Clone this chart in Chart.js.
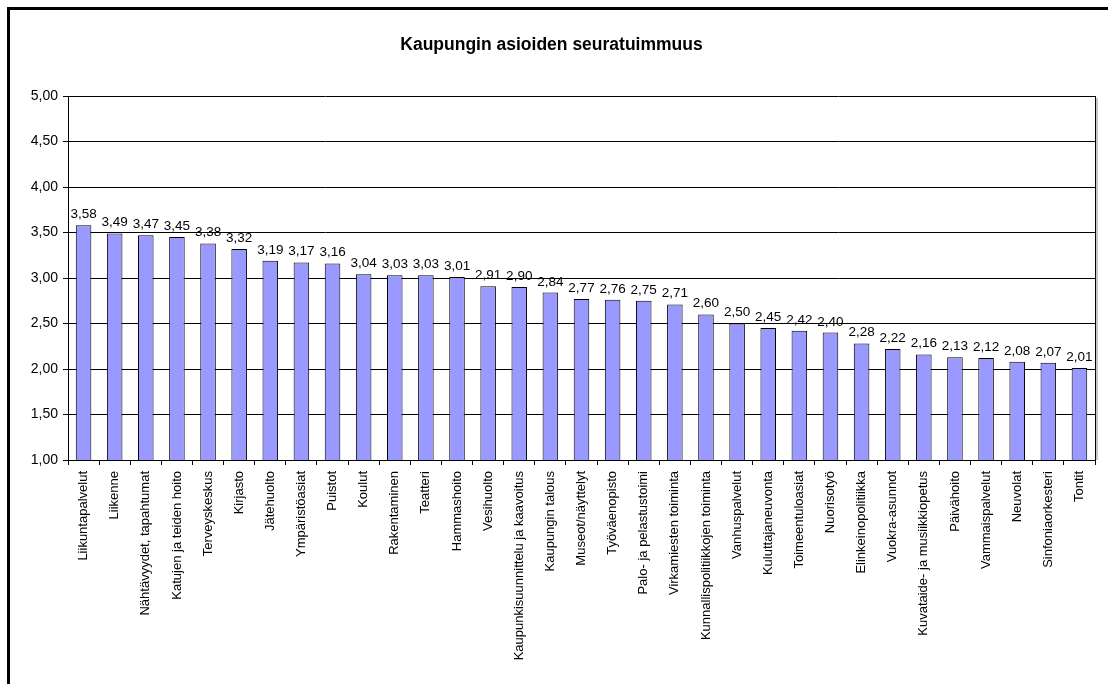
<!DOCTYPE html>
<html lang="fi">
<head>
  <meta charset="UTF-8" />
  <title>Kaupungin asioiden seuratuimmuus</title>
  <script src="https://cdn.jsdelivr.net/npm/chart.js"></script>
  <style>
    html, body { margin: 0; padding: 0; background: #fff; }
    .wrap { width: 1108px; height: 684px; position: relative; }
  </style>
</head>
<body>
  <div class="wrap"><canvas id="seuratuimmuus"></canvas></div>

<script>
  const otsikko = 'Kaupungin asioiden seuratuimmuus';

  const asiat = [
    'Liikuntapalvelut', 'Liikenne', 'Nähtävyydet, tapahtumat', 'Katujen ja teiden hoito',
    'Terveyskeskus', 'Kirjasto', 'Jätehuolto', 'Ympäristöasiat', 'Puistot', 'Koulut',
    'Rakentaminen', 'Teatteri', 'Hammashoito', 'Vesihuolto', 'Kaupunkisuunnittelu ja kaavoitus',
    'Kaupungin talous', 'Museot/näyttelyt', 'Työväenopisto', 'Palo- ja pelastustoimi',
    'Virkamiesten toiminta', 'Kunnallispolitiikkojen toiminta', 'Vanhuspalvelut',
    'Kuluttajaneuvonta', 'Toimeentuloasiat', 'Nuorisotyö', 'Elinkeinopolitiikka',
    'Vuokra-asunnot', 'Kuvataide- ja musiikkiopetus', 'Päivähoito', 'Vammaispalvelut',
    'Neuvolat', 'Sinfoniaorkesteri', 'Tontit'
  ];

  const keskiarvot = [
    3.58, 3.49, 3.47, 3.45, 3.38, 3.32, 3.19, 3.17, 3.16, 3.04,
    3.03, 3.03, 3.01, 2.91, 2.90, 2.84, 2.77, 2.76, 2.75, 2.71,
    2.60, 2.50, 2.45, 2.42, 2.40, 2.28, 2.22, 2.16, 2.13, 2.12,
    2.08, 2.07, 2.01
  ];

  // asteikko 1,00 - 5,00 välein 0,50
  const yMin = 1, yMax = 5, yStep = 0.5;

  const fontti = 'Arial, "Liberation Sans", sans-serif';

  function pilkulla(v) {
    return v.toFixed(2).replace('.', ',');
  }

  // arvot pylväiden päälle
  const arvoTekstit = {
    id: 'arvoTekstit',
    afterDatasetsDraw(chart) {
      const ctx = chart.ctx;
      const meta = chart.getDatasetMeta(0);
      ctx.save();
      ctx.font = '13.5px ' + fontti;
      ctx.fillStyle = '#000';
      ctx.textAlign = 'center';
      ctx.textBaseline = 'bottom';
      meta.data.forEach((bar, i) => {
        ctx.fillText(pilkulla(keskiarvot[i]), bar.x, bar.y - 4);
      });
      ctx.restore();
    }
  };

  // kaavion kehys ja piirtoalueen oikea reuna
  const kehys = {
    id: 'kehys',
    afterDraw(chart) {
      const ctx = chart.ctx;
      const a = chart.chartArea;
      ctx.save();
      ctx.strokeStyle = '#000';
      ctx.lineWidth = 3;
      ctx.beginPath();
      ctx.moveTo(8.5, chart.height + 5);
      ctx.lineTo(8.5, 8.5);
      ctx.lineTo(chart.width + 5, 8.5);
      ctx.stroke();

      ctx.lineWidth = 1;
      ctx.strokeStyle = '#000';
      ctx.beginPath();
      ctx.moveTo(Math.round(a.right) + 0.5, a.top);
      ctx.lineTo(Math.round(a.right) + 0.5, a.bottom);
      ctx.stroke();
      ctx.strokeStyle = '#c8c8c8';
      ctx.lineWidth = 2;
      ctx.beginPath();
      ctx.moveTo(Math.round(a.right) + 2, a.top + 2);
      ctx.lineTo(Math.round(a.right) + 2, a.bottom);
      ctx.stroke();
      ctx.restore();
    }
  };

  new Chart(document.getElementById('seuratuimmuus'), {
    type: 'bar',
    data: {
      labels: asiat,
      datasets: [{
        data: keskiarvot,
        backgroundColor: '#9999ff',
        borderColor: '#000',
        borderWidth: 1,
        borderSkipped: false,
        barPercentage: 0.5,
        categoryPercentage: 1
      }]
    },
    options: {
      responsive: true,
      maintainAspectRatio: false,
      animation: false,
      layout: { padding: { left: 8, right: 13, top: 0, bottom: 0 } },
      plugins: {
        legend: { display: false },
        tooltip: { enabled: false },
        title: {
          display: true,
          text: otsikko,
          color: '#000',
          font: { family: fontti, size: 17.5, weight: 'bold' },
          padding: { top: 35, bottom: 40 }
        }
      },
      scales: {
        x: {
          grid: {
            offset: true,
            drawOnChartArea: false,
            color: '#000',
            tickLength: 5
          },
          border: { color: '#000' },
          ticks: {
            color: '#000',
            font: { family: fontti, size: 13 },
            minRotation: 90,
            maxRotation: 90,
            autoSkip: false,
            padding: 6
          },
          afterFit(scale) { scale.height = 224; }
        },
        y: {
          min: yMin,
          max: yMax,
          grid: { color: '#000', tickLength: 5 },
          border: { color: '#000' },
          ticks: {
            stepSize: yStep,
            color: '#000',
            font: { family: fontti, size: 14 },
            padding: 5,
            callback: v => pilkulla(v)
          },
          afterFit(scale) { scale.width = 60; }
        }
      }
    },
    plugins: [arvoTekstit, kehys]
  });
</script>
</body>
</html>
